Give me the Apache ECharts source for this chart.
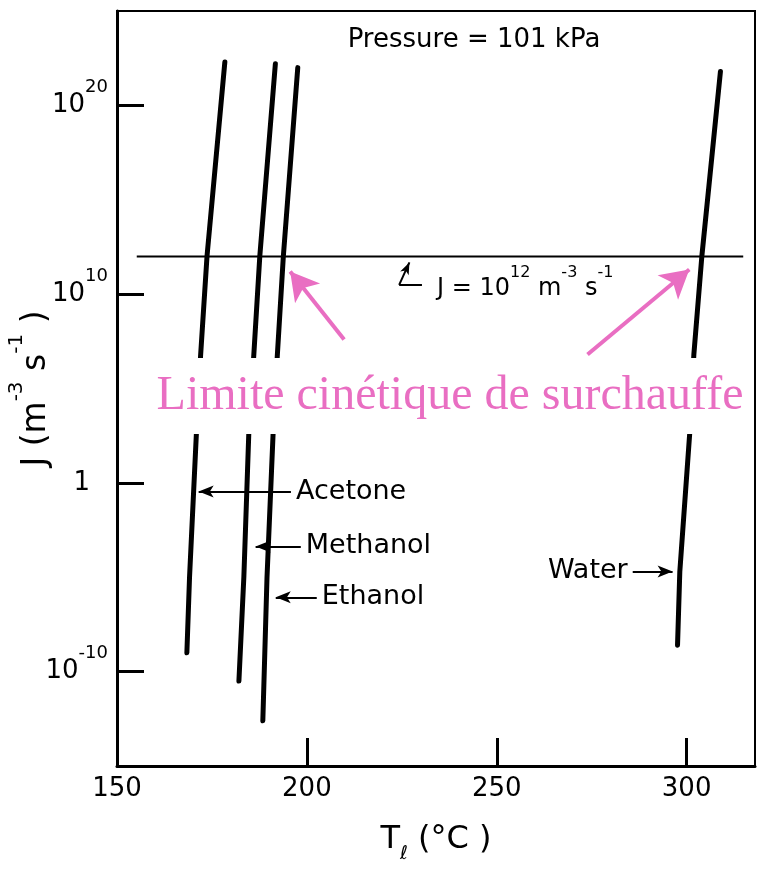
<!DOCTYPE html>
<html>
<head>
<meta charset="utf-8">
<script src="https://cdn.jsdelivr.net/npm/echarts@6/dist/echarts.min.js"></script>
<style>
  html, body { margin: 0; padding: 0; background: #fff; }
  #main { width: 758px; height: 869px; }
</style>
</head>
<body>
<div id="main"></div>
<script>
// nucleation rate J, stored as log10(J) in m^-3 s^-1, against liquid temperature (°C)
var acetoneT = [168.4, 169.1, 170.9, 172.0, 173.7, 178.4];
var acetoneLogJ = [-9.0, -5.0, 2.6, 6.7, 12.0, 22.3];
var methanolT = [182.1, 183.4, 184.7, 186.0, 187.6, 191.7];
var methanolLogJ = [-10.5, -5.0, 2.6, 6.7, 12.0, 22.2];
var ethanolT = [188.4, 189.5, 191.1, 192.2, 193.8, 197.6];
var ethanolLogJ = [-12.6, -5.0, 2.6, 6.7, 12.0, 22.0];
var waterT = [297.6, 298.2, 300.8, 301.9, 304.0, 308.9];
var waterLogJ = [-8.6, -4.7, 2.6, 6.8, 12.0, 21.8];

// J = 10^12 reference line
var limitT = [155.2, 314.9];
var limitLogJ = [12, 12];

var xTicks = [150, 200, 250, 300];
var yTicks = [-10, 0, 10, 20];

// label arrows: [tail, head]
var acetoneArrow = [[195.8, -0.46], [171.5, -0.46]];
var methanolArrow = [[198.4, -3.37], [186.5, -3.37]];
var ethanolArrow = [[202.6, -6.06], [191.8, -6.06]];
var waterArrow = [[285.8, -4.69], [296.3, -4.69]];
// pink arrows to the crossing points
var pinkLeft = [[209.8, 7.6], [195.6, 11.2]];
var pinkRight = [[273.9, 6.8], [300.7, 11.3]];
// little leader under the J = 10^12 line
var leaderFoot = [[230.3, 10.49], [224.3, 10.49]];
var leaderUp = [[224.3, 10.49], [227.0, 11.68]];

var black = '#000';
var pink = '#E96EC2';
var font = 'DejaVu Sans';

function pairs(xs, ys) {
  return xs.map(function (x, i) { return [x, ys[i]]; });
}

function curve(name, xs, ys, arrow) {
  return {
    name: name,
    type: 'line',
    data: pairs(xs, ys),
    symbol: 'none',
    lineStyle: { color: black, width: 5, cap: 'round' },
    z: 3,
    markLine: {
      silent: true,
      symbol: ['none', 'arrow'],
      symbolSize: [9, 15],
      lineStyle: { color: black, width: 2, type: 'solid' },
      emphasis: { disabled: true },
      label: {
        show: true, position: 'start', distance: 5, formatter: name,
        color: black, fontFamily: font, fontSize: 27
      },
      data: [[{ coord: arrow[0] }, { coord: arrow[1] }]]
    }
  };
}

var chart = echarts.init(document.getElementById('main'));

var option = {
  animation: false,
  grid: {
    left: 117, right: 3, top: 11, bottom: 103,
    containLabel: false, outerBoundsMode: 'none',
    show: true, borderColor: black, borderWidth: 2
  },
  xAxis: {
    type: 'value',
    min: 150,
    max: 318,
    splitLine: { show: false },
    axisLine: { onZero: false, lineStyle: { color: black, width: 3 } },
    axisTick: { inside: true, length: 28, lineStyle: { color: black, width: 3 }, customValues: xTicks },
    axisLabel: { customValues: xTicks, color: black, fontFamily: font, fontSize: 26, margin: 10 },
    name: '{n|T}{sub|ℓ}{n| (°C )}',
    nameLocation: 'middle',
    nameGap: 58,
    nameMoveOverlap: false,
    nameTextStyle: {
      rich: {
        n: { fontFamily: font, fontSize: 32, lineHeight: 40, color: black, verticalAlign: 'top' },
        sub: { fontFamily: font, fontSize: 19, lineHeight: 22, color: black, verticalAlign: 'bottom' }
      }
    }
  },
  yAxis: {
    type: 'value',
    min: -15,
    max: 25,
    splitLine: { show: false },
    axisLine: { onZero: false, lineStyle: { color: black, width: 3 } },
    axisTick: { inside: true, length: 27, lineStyle: { color: black, width: 3 }, customValues: yTicks },
    axisLabel: {
      customValues: yTicks,
      margin: 9,
      padding: [0, 0, 14, 0],
      formatter: function (v) {
        return v === 0 ? '{one|1}' : '{b|10}{sup|' + v + '}';
      },
      rich: {
        b: { fontFamily: font, fontSize: 26, lineHeight: 40, color: black, verticalAlign: 'bottom' },
        one: { fontFamily: font, fontSize: 26, lineHeight: 40, color: black, verticalAlign: 'bottom', padding: [0, 18, 0, 0] },
        sup: { fontFamily: font, fontSize: 18, lineHeight: 22, color: black, verticalAlign: 'top' }
      }
    },
    name: '{n|J (m}{sup|-3}{n| s}{sup|-1}{n| )}',
    nameLocation: 'middle',
    nameRotate: 90,
    nameGap: 64,
    nameMoveOverlap: false,
    nameTextStyle: {
      rich: {
        n: { fontFamily: font, fontSize: 33, lineHeight: 46, color: black, verticalAlign: 'bottom' },
        sup: { fontFamily: font, fontSize: 20, lineHeight: 22, color: black, verticalAlign: 'top' }
      }
    }
  },
  series: [
    curve('Acetone', acetoneT, acetoneLogJ, acetoneArrow),
    curve('Methanol', methanolT, methanolLogJ, methanolArrow),
    curve('Ethanol', ethanolT, ethanolLogJ, ethanolArrow),
    curve('Water', waterT, waterLogJ, waterArrow),
    {
      name: 'limit',
      type: 'line',
      data: pairs(limitT, limitLogJ),
      symbol: 'none',
      lineStyle: { color: black, width: 2 },
      z: 2,
      markLine: {
        silent: true,
        emphasis: { disabled: true },
        label: { show: false },
        data: [
          [{ coord: pinkLeft[0], symbol: 'none', lineStyle: { color: pink, width: 4, type: 'solid' } },
           { coord: pinkLeft[1], symbol: 'arrow', symbolSize: [24, 28] }],
          [{ coord: pinkRight[0], symbol: 'none', lineStyle: { color: pink, width: 4, type: 'solid' } },
           { coord: pinkRight[1], symbol: 'arrow', symbolSize: [24, 28] }],
          [{ coord: leaderFoot[0], symbol: 'none', lineStyle: { color: black, width: 2, type: 'solid' } },
           { coord: leaderFoot[1], symbol: 'none' }],
          [{ coord: leaderUp[0], symbol: 'none', lineStyle: { color: black, width: 2, type: 'solid' } },
           { coord: leaderUp[1], symbol: 'arrow', symbolSize: [7, 12] }]
        ]
      }
    }
  ],
  graphic: [
    {
      type: 'text', x: 474, y: 40, z: 10,
      style: { text: 'Pressure = 101 kPa', fill: black, font: '26px "DejaVu Sans"', align: 'center', verticalAlign: 'middle' }
    },
    {
      type: 'text', x: 437, y: 283, z: 10,
      style: {
        text: '{b|J = 10}{sup|12}{b| m}{sup|-3}{b| s}{sup|-1}',
        align: 'left', verticalAlign: 'middle',
        rich: {
          b: { fontFamily: font, fontSize: 24, lineHeight: 36, fill: black, verticalAlign: 'bottom' },
          sup: { fontFamily: font, fontSize: 16, lineHeight: 18, fill: black, verticalAlign: 'top' }
        }
      }
    },
    {
      type: 'rect', z: 100,
      shape: { x: 150, y: 358, width: 602, height: 76 },
      style: { fill: '#fff' }
    },
    {
      type: 'text', x: 450, y: 396, z: 101,
      style: {
        text: 'Limite cinétique de surchauffe', fill: pink,
        font: '48px "Liberation Serif"', align: 'center', verticalAlign: 'middle'
      }
    }
  ]
};

chart.setOption(option);
</script>
</body>
</html>
